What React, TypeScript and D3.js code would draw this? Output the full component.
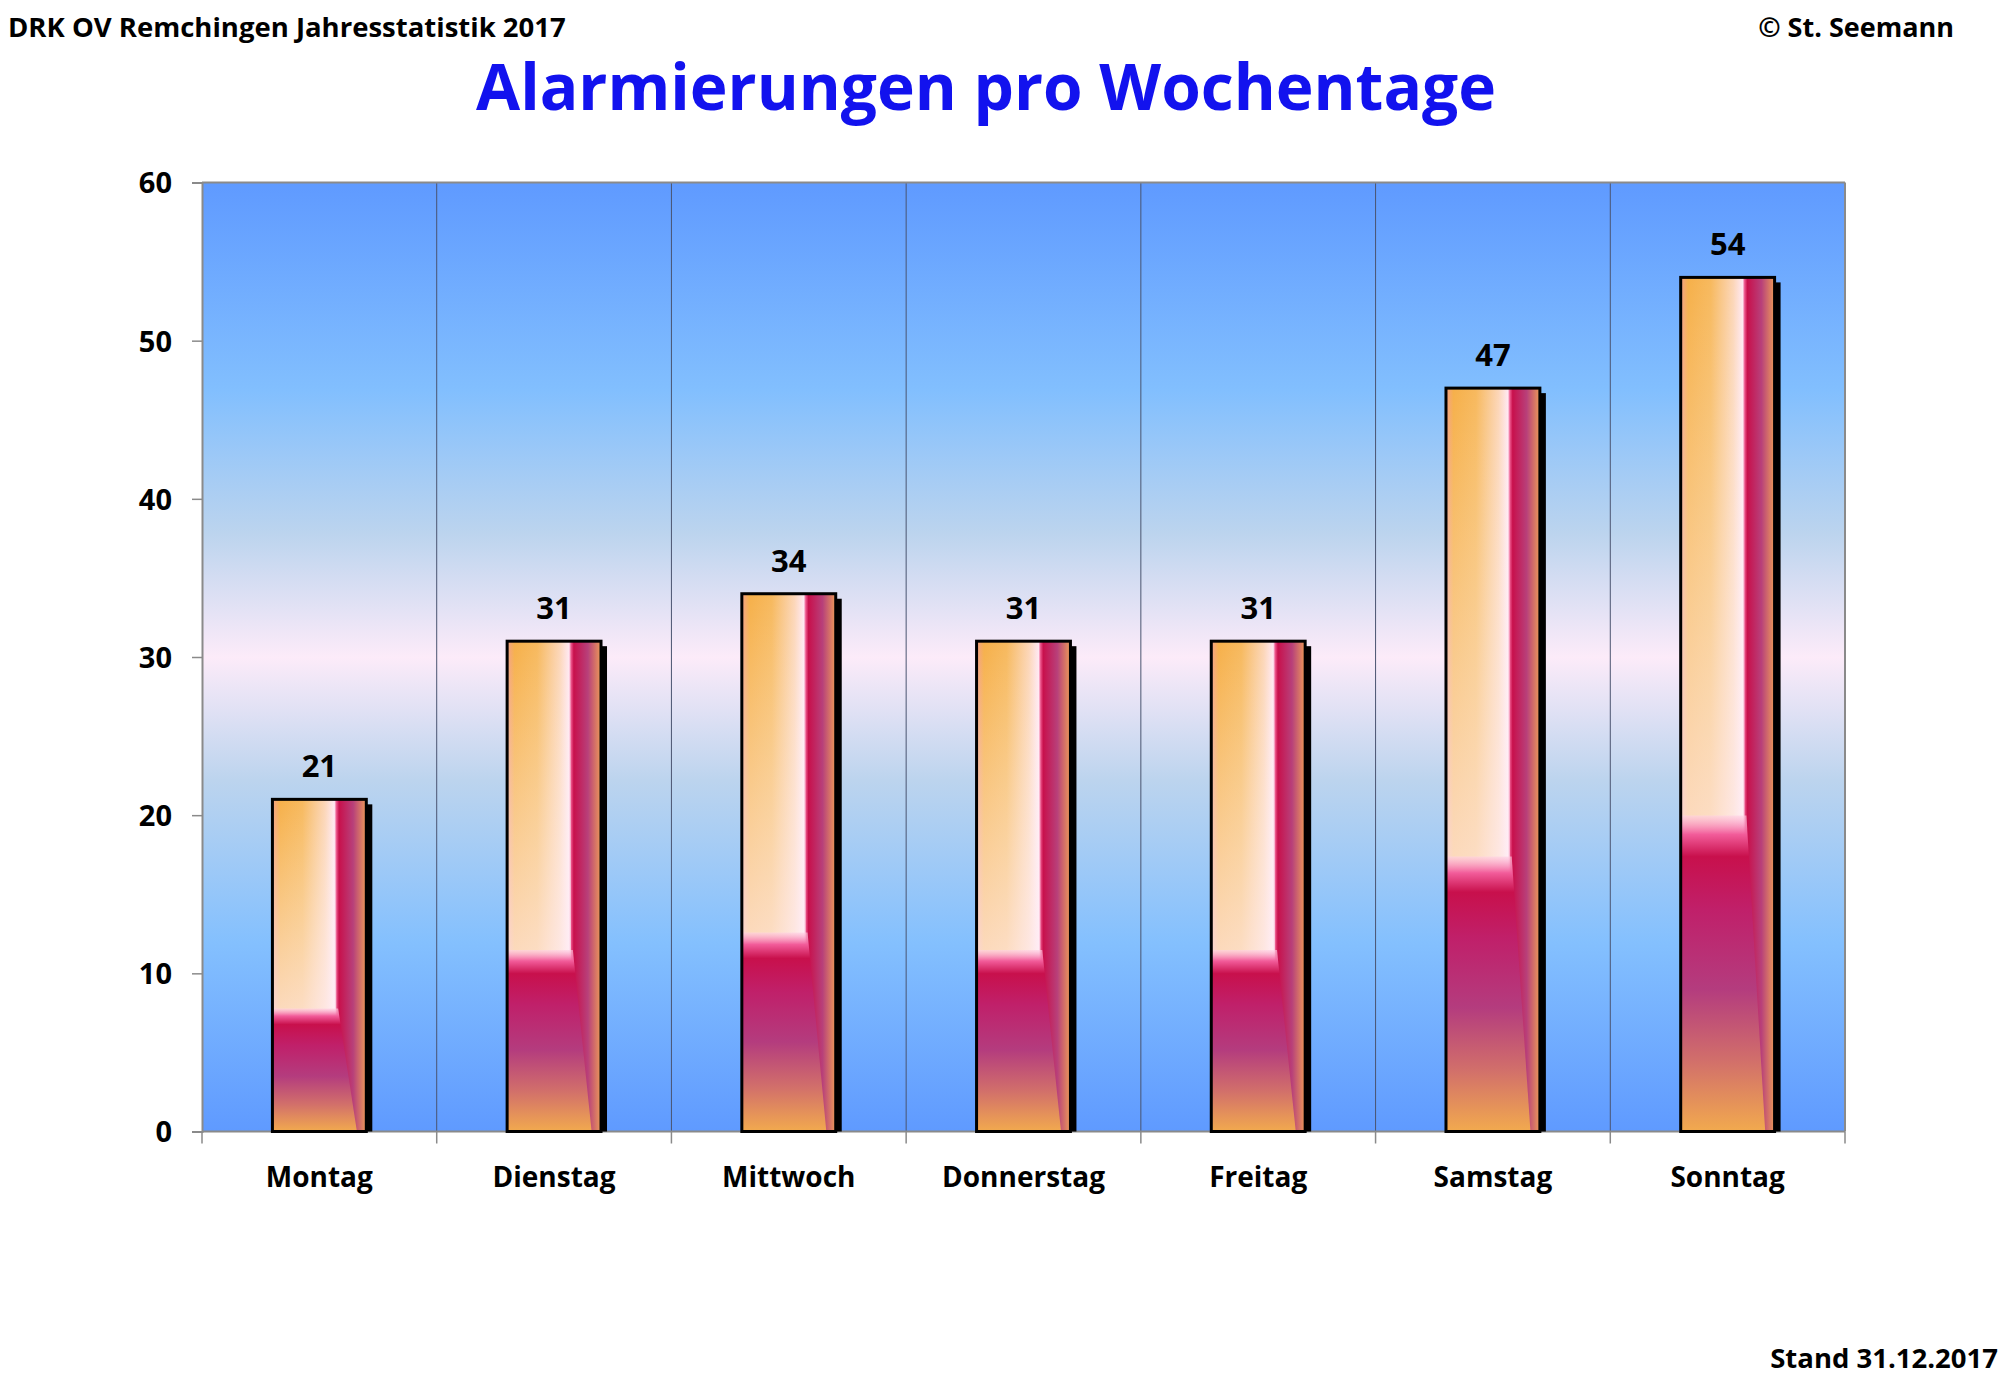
import * as d3 from 'd3';
import React, { useEffect, useRef } from 'react';

const days = ['Montag', 'Dienstag', 'Mittwoch', 'Donnerstag', 'Freitag', 'Samstag', 'Sonntag'];
const alarms = [21, 31, 34, 31, 31, 47, 54];
const yTicks = [0, 10, 20, 30, 40, 50, 60];

const FONT = "'Comic Sans MS', 'Open Sans', sans-serif";

export default () => {
    const ref = useRef<any>();

    useEffect(() => {
        const svg = d3.select<any, any>(ref.current);
        svg.selectAll('g.chart').remove();
        const g = svg.append('g').attr('class', 'chart');

        const yScale = d3.scaleLinear().domain([0, 60]).range([1131.5, 182.5]);
        const xScale = d3.scaleBand<string>().domain(days).range([202, 1845]);
        const bw = xScale.bandwidth() * 0.4;

        // plot background
        g.append('rect')
            .attr('x', 202).attr('y', yScale(60))
            .attr('width', 1845 - 202).attr('height', yScale(0) - yScale(60))
            .attr('fill', 'url(#bgGrad)');

        // vertical separators
        g.selectAll('line.sep')
            .data(days.slice(1))
            .join('line')
            .attr('class', 'sep')
            .attr('x1', d => xScale(d)!).attr('x2', d => xScale(d)!)
            .attr('y1', yScale(60)).attr('y2', yScale(0))
            .attr('stroke', '#4a5470').attr('stroke-width', 1);

        // frame top / right
        g.append('line').attr('x1', 202).attr('x2', 1845).attr('y1', yScale(60)).attr('y2', yScale(60))
            .attr('stroke', '#8a8a8a').attr('stroke-width', 2);
        g.append('line').attr('x1', 1845).attr('x2', 1845).attr('y1', yScale(60)).attr('y2', yScale(0))
            .attr('stroke', '#8a8a8a').attr('stroke-width', 2);

        // y axis
        const yAxis = d3.axisLeft(yScale).tickValues(yTicks).tickSize(10).tickPadding(20);
        const ya = g.append('g').attr('transform', 'translate(202,0)').call(yAxis);
        ya.select('.domain').attr('stroke', '#8a8a8a').attr('stroke-width', 2);
        ya.selectAll('.tick line').attr('stroke', '#8a8a8a').attr('stroke-width', 1.5);
        ya.selectAll('.tick text')
            .attr('font-family', FONT).attr('font-size', 29).attr('font-weight', 'bold')
            .attr('fill', '#000').attr('dy', '0.36em');

        // x axis
        const xa = g.append('g').attr('transform', `translate(0,${yScale(0)})`);
        xa.append('line').attr('x1', 202).attr('x2', 1845).attr('y1', 0).attr('y2', 0)
            .attr('stroke', '#8a8a8a').attr('stroke-width', 2);
        const bounds = [...days.map(d => xScale(d)!), 1845];
        xa.selectAll('line.tk').data(bounds).join('line').attr('class', 'tk')
            .attr('x1', d => d).attr('x2', d => d).attr('y1', 0).attr('y2', 12)
            .attr('stroke', '#8a8a8a').attr('stroke-width', 1.5);
        xa.selectAll('text').data(days).join('text')
            .attr('x', d => xScale(d)! + xScale.bandwidth() / 2)
            .attr('y', 55)
            .attr('text-anchor', 'middle')
            .attr('font-family', FONT).attr('font-size', 28).attr('font-weight', 'bold')
            .text(d => d);

        const bars = g.selectAll('g.bar')
            .data(days.map((d, i) => ({ day: d, v: alarms[i] })))
            .join('g').attr('class', 'bar');
        const bx = (d: any) => xScale(d.day)! + (xScale.bandwidth() - bw) / 2;

        // shadow
        bars.append('rect')
            .attr('x', (d: any) => bx(d) + 6).attr('y', (d: any) => yScale(d.v) + 5)
            .attr('width', bw).attr('height', (d: any) => yScale(0) - yScale(d.v) - 5)
            .attr('fill', '#000');
        // base horizontal gradient
        bars.append('rect')
            .attr('x', bx).attr('y', (d: any) => yScale(d.v))
            .attr('width', bw).attr('height', (d: any) => yScale(0) - yScale(d.v))
            .attr('fill', 'url(#barH)');
        // whitening of the left part downwards
        bars.append('rect')
            .attr('x', bx).attr('y', (d: any) => yScale(d.v))
            .attr('width', bw * 0.68).attr('height', (d: any) => (yScale(0) - yScale(d.v)) * 0.67)
            .attr('fill', 'url(#barW)');
        // lower crimson part
        bars.append('path')
            .attr('d', (d: any) => {
                const x0 = bx(d);
                const h = yScale(0) - yScale(d.v);
                const yt = yScale(0) - h * 0.37;
                const yb = yScale(0);
                return `M${x0},${yt}L${x0 + bw * 0.7},${yt}L${x0 + bw * 0.9},${yb}L${x0},${yb}Z`;
            })
            .attr('fill', 'url(#barL)');
        // outline
        bars.append('rect')
            .attr('x', bx).attr('y', (d: any) => yScale(d.v))
            .attr('width', bw).attr('height', (d: any) => yScale(0) - yScale(d.v))
            .attr('fill', 'none').attr('stroke', '#000').attr('stroke-width', 3);
        // value labels
        bars.append('text')
            .attr('x', (d: any) => xScale(d.day)! + xScale.bandwidth() / 2)
            .attr('y', (d: any) => yScale(d.v) - 22)
            .attr('text-anchor', 'middle')
            .attr('font-family', FONT).attr('font-size', 31).attr('font-weight', 'bold')
            .text((d: any) => d.v);
    });

    return (
        <svg ref={ref} width={2000} height={1385}
            style={{ position: 'absolute', left: 0, top: 0, background: '#fff' }}>
            <defs>
                <linearGradient id="bgGrad" x1="0" y1="0" x2="0" y2="1">
                    <stop offset="0%" stopColor="#5f9aff" />
                    <stop offset="22%" stopColor="#82bffe" />
                    <stop offset="37%" stopColor="#bcd4ee" />
                    <stop offset="50%" stopColor="#fcebf9" />
                    <stop offset="63%" stopColor="#bcd4ee" />
                    <stop offset="80%" stopColor="#84c0fe" />
                    <stop offset="100%" stopColor="#5f9aff" />
                </linearGradient>
                <linearGradient id="barH" x1="0" y1="0" x2="1" y2="0">
                    <stop offset="0%" stopColor="#f4a088" />
                    <stop offset="8%" stopColor="#f6b04a" />
                    <stop offset="32%" stopColor="#f7b95e" />
                    <stop offset="56%" stopColor="#fcd6b8" />
                    <stop offset="66%" stopColor="#ffe8f2" />
                    <stop offset="68%" stopColor="#ee5a90" />
                    <stop offset="71%" stopColor="#c8104c" />
                    <stop offset="86%" stopColor="#b8407a" />
                    <stop offset="100%" stopColor="#ec9a58" />
                </linearGradient>
                <linearGradient id="barW" x1="0" y1="0" x2="0" y2="1">
                    <stop offset="0%" stopColor="#ffffff" stopOpacity="0" />
                    <stop offset="100%" stopColor="#ffeef6" stopOpacity="0.7" />
                </linearGradient>
                <linearGradient id="barL" x1="0" y1="0" x2="0" y2="1">
                    <stop offset="0%" stopColor="#ffd0e4" stopOpacity="0.6" />
                    <stop offset="6%" stopColor="#f25c9a" />
                    <stop offset="13%" stopColor="#c8104c" />
                    <stop offset="30%" stopColor="#c0206a" />
                    <stop offset="55%" stopColor="#b43c7e" />
                    <stop offset="78%" stopColor="#d2706a" />
                    <stop offset="100%" stopColor="#f2aa4e" />
                </linearGradient>
            </defs>
            <text x={8} y={37} fontFamily={FONT} fontSize={27.5} fontWeight="bold">DRK OV Remchingen Jahresstatistik 2017</text>
            <text x={1954} y={37} textAnchor="end" fontFamily={FONT} fontSize={27} fontWeight="bold">© St. Seemann</text>
            <text x={986} y={110} textAnchor="middle" fontFamily={FONT} fontSize={64} fontWeight="bold" fill="#1212ee">Alarmierungen pro Wochentage</text>
            <text x={1998} y={1368} textAnchor="end" fontFamily={FONT} fontSize={27.5} fontWeight="bold">Stand 31.12.2017</text>
        </svg>
    );
}
